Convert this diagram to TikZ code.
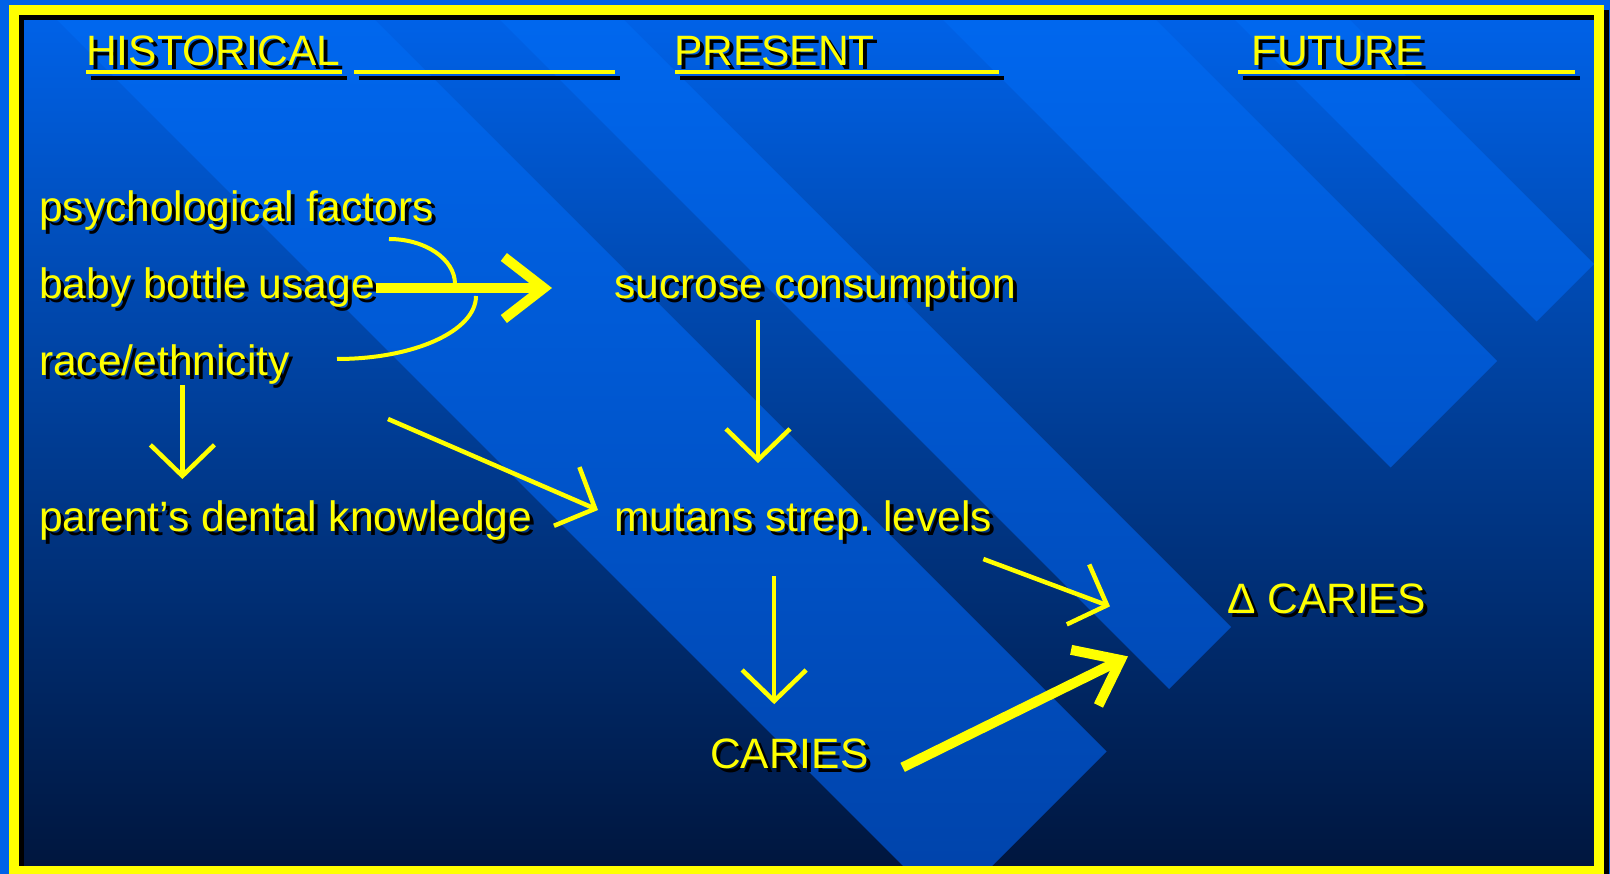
\documentclass[tikz,border=0pt]{standalone}
\usepackage{fontspec}
\setmainfont{Liberation Sans}
\usetikzlibrary{arrows.meta,calc}

\definecolor{ink}{RGB}{255,255,0}
\definecolor{bgtop}{RGB}{0,98,232}
\definecolor{bgmid}{RGB}{0,62,168}
\definecolor{bgbot}{RGB}{0,22,62}
\definecolor{bandtop}{RGB}{0,104,240}
\definecolor{bandmid}{RGB}{0,88,212}
\definecolor{bandbot}{RGB}{0,66,168}

\tikzset{
  lbl/.style={inner sep=0pt, anchor=base west, font=\fontsize{42.5}{51}\selectfont},
  thinarr/.style={ink, line width=4.5pt, -{Straight Barb[length=31pt,width=64pt]}},
  thickarr/.style={ink, line width=10pt, -{Straight Barb[length=40pt,width=62pt]}},
  brace/.style={ink, line width=4pt},
  uline/.style={line width=4pt},
  band/.style={path picture={\shade[top color=bandtop, middle color=bandmid, bottom color=bandbot] (0,15) rectangle (1610,866);}}
}
\frenchspacing

\begin{document}
\begin{tikzpicture}[x=1pt,y=-1pt]
    \useasboundingbox (0,0) rectangle (1610,874);
    % slide background
    \fill[bgtop] (0,0) rectangle (1610,874);
    \shade[top color=bgtop, middle color=bgmid, bottom color=bgbot] (18,15) rectangle (1594,866);
    \begin{scope}
      \clip (18,15) rectangle (1594,866);
      \foreach \a/\b in {37/355, 480/604, 923/1136, 1215/1330}
        \path[band] (\a,0) -- (\b,0) -- ({(1858+\b)/2},{(1858-\b)/2}) -- ({(1858+\a)/2},{(1858-\a)/2}) -- cycle;
    \end{scope}
    \draw[black, line width=10pt] (18.5,15) rectangle (1604,876);
    \draw[ink, line width=10pt] (13.5,10) rectangle (1599,871);

    % headings and labels, shadow first
    \foreach \c/\d in {black/4, ink/0} {
      \node[lbl, text=\c] (hist)    at (86+\d,66+\d)    {HISTORICAL};
      \node[lbl, text=\c] (present) at (674+\d,66+\d)   {PRESENT};
      \node[lbl, text=\c] (future)  at (1251+\d,66+\d)  {FUTURE};
      \node[lbl, text=\c] (psy)     at (39+\d,222+\d)   {psychological factors};
      \node[lbl, text=\c] (baby)    at (39+\d,299+\d)   {baby bottle usage};
      \node[lbl, text=\c] (race)    at (39+\d,376+\d)   {race/ethnicity};
      \node[lbl, text=\c] (parent)  at (39+\d,531+\d)   {parent’s dental knowledge};
      \node[lbl, text=\c] (sucrose) at (614+\d,299+\d)  {sucrose consumption};
      \node[lbl, text=\c] (mutans)  at (614+\d,531+\d)  {mutans strep. levels};
      \node[lbl, text=\c] (caries)  at (710+\d,768+\d)  {CARIES};
      \node[lbl, text=\c] (dcaries) at (1227+\d,613+\d) {Δ CARIES};
    }
    \foreach \c/\dx/\dy in {black/5/6, ink/0/0} {
      \draw[uline, \c] (86+\dx,72+\dy) -- (342+\dx,72+\dy);
      \draw[uline, \c] (354+\dx,72+\dy) -- (615+\dx,72+\dy);
      \draw[uline, \c] (675+\dx,72+\dy) -- (999+\dx,72+\dy);
      \draw[uline, \c] (1238+\dx,72+\dy) -- (1575+\dx,72+\dy);
    }

    % bracket round the three factors
    \draw[brace] (389,239) .. controls (425,239) and (455,259) .. (455,284);
    \draw[brace] (476,296) .. controls (476,331) and (414,359) .. (337,359);

    \coordinate (factors) at (388,419);

    \draw[thickarr, shorten <=1pt, shorten >=62pt] (baby.east) -- (baby.east -| sucrose.west);
    \draw[thinarr, shorten >=21pt] ([xshift=18pt]race.south) -- ([xshift=18pt]race.south |- parent.north);
    \draw[thinarr] (factors) -- ([xshift=-16pt,yshift=10pt]mutans.west);
    \draw[thinarr, shorten <=12pt, shorten >=37pt] ([xshift=-57pt]sucrose.south) -- ([xshift=-57pt]sucrose.south |- mutans.north);
    \draw[thinarr, shorten <=36pt, shorten >=34pt] ([xshift=-29pt]mutans.south) -- ([xshift=-29pt]mutans.south |- caries.north);
    \draw[thinarr] ([xshift=-9pt,yshift=-19pt]mutans.south east) -- ([xshift=-117pt,yshift=-8pt]dcaries.west);
    \draw[thickarr] ([xshift=34pt,yshift=-14pt]caries.east) -- ([xshift=-99pt,yshift=-58pt]dcaries.west);
\end{tikzpicture}
\end{document}
